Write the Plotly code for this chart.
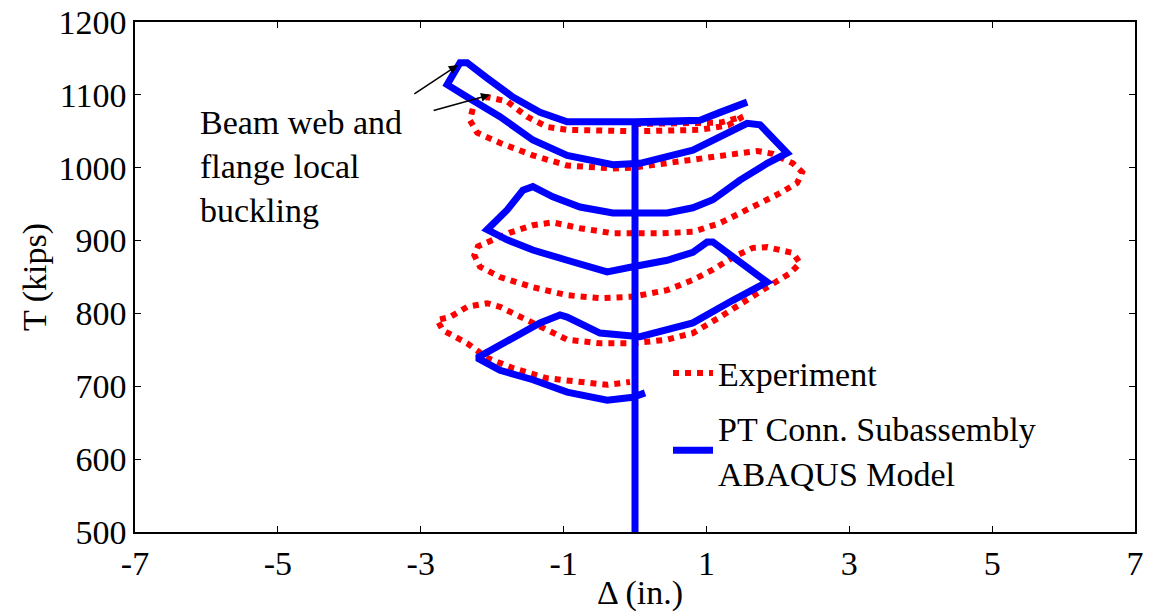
import plotly.graph_objects as go

# ABAQUS model (blue, solid)
model_delta = [0.0, 0.0, 0.5, 0.91, 1.19, 1.57, 1.19, 0.91, 0.0, -0.95, -1.33, -1.71, -2.07,
               -2.35, -2.45, -2.63, -2.35, -1.89, -1.43, -0.95, -0.31, 0.07, 0.81, 1.09,
               1.57, 1.75, 1.93, 2.13, 1.85, 1.47, 1.09, 0.81, 0.45, -0.31, -0.77, -1.15,
               -1.43, -1.57, -1.79, -2.07, -1.79, -1.43, -0.95, -0.39, -0.03, 0.45, 0.81,
               1.01, 1.09, 1.37, 1.85, 1.37, 0.81, 0.07, -0.49, -0.95, -1.05, -1.33, -1.75,
               -2.21, -1.89, -1.43, -0.95, -0.39, -0.03, 0.14]
model_T = [500, 1062, 1063, 1065, 1076, 1090, 1076, 1065, 1063, 1063, 1076, 1097, 1123,
           1144, 1144, 1114, 1097, 1070, 1038, 1017, 1004, 1006, 1024, 1038,
           1061, 1059, 1042, 1020, 1006, 983, 956, 945, 938, 938, 946, 960,
           974, 969, 942, 915, 901, 887, 873, 857, 864, 873, 884,
           898, 898, 877, 843, 818, 787, 768, 773, 795, 798, 787, 764,
           739, 722, 709, 692, 681, 685, 691]

# Experiment (red, dotted)
exp_delta = [0.0, 0.6, 1.2, 1.51, 1.3, 0.9, 0.0, -0.95, -1.23, -1.51, -1.79, -2.07, -2.25,
             -2.31, -2.21, -1.89, -1.43, -0.95, -0.31, -0.03, 0.45, 0.91, 1.37, 1.71,
             1.93, 2.21, 2.34, 2.27, 2.03, 1.65, 1.19, 0.81, 0.35, -0.31, -0.77, -1.15,
             -1.43, -1.75, -1.93, -2.2, -2.25, -2.17, -1.89, -1.43, -0.95, -0.49, -0.03,
             0.45, 0.81, 1.09, 1.37, 1.65, 1.85, 2.21, 2.31, 2.17, 1.85, 1.57, 1.19,
             0.81, 0.45, -0.03, -0.49, -0.95, -1.23, -1.57, -1.89, -2.07, -2.35, -2.59,
             -2.77, -2.69, -2.35, -2.07, -1.71, -1.23, -0.77, -0.39, -0.07]
exp_T = [1060, 1060, 1062, 1070, 1058, 1052, 1050, 1052, 1056, 1070, 1091, 1097, 1090,
         1065, 1048, 1034, 1017, 1003, 999, 1000, 1006, 1012, 1019, 1023,
         1019, 1006, 994, 979, 965, 946, 924, 912, 910, 910, 917, 925,
         921, 911, 904, 892, 880, 864, 850, 836, 825, 821, 823,
         832, 846, 860, 877, 890, 891, 883, 869, 855, 836, 818, 795,
         773, 764, 759, 759, 764, 777, 795, 809, 814, 809, 795,
         791, 777, 759, 739, 725, 711, 705, 702, 706]

x_ticks = [-7, -5, -3, -1, 1, 3, 5, 7]
x_labels = ['-7', '-5', '-3', '-1', '1', '3', '5', '7']
y_ticks = [500, 600, 700, 800, 900, 1000, 1100, 1200]

font = 'Liberation Serif, Times New Roman, serif'
fsize = 34

fig = go.Figure()
fig.add_trace(go.Scatter(
    x=exp_delta, y=exp_T, mode='lines', name='Experiment', legendgroup='exp',
    line=dict(color='#ff0000', width=6, dash='dot')
))
fig.add_trace(go.Scatter(
    x=model_delta, y=model_T, mode='lines', name='PT Conn. Subassembly<br>ABAQUS Model',
    legendgroup='fem', line=dict(color='#0000ff', width=7)
))

fig.add_annotation(
    x=-6.12, y=1002, xref='x', yref='y', text='Beam web and<br>flange local<br>buckling',
    showarrow=False, xanchor='left', yanchor='middle', align='left',
    font=dict(family=font, size=fsize, color='black')
)
fig.add_annotation(
    x=-2.48, y=1141, ax=-3.11, ay=1100, xref='x', yref='y', axref='x', ayref='y',
    text='', showarrow=True, arrowhead=2, arrowsize=1.2, arrowwidth=1.5, arrowcolor='black'
)
fig.add_annotation(
    x=-2.03, y=1100, ax=-2.84, ay=1078, xref='x', yref='y', axref='x', ayref='y',
    text='', showarrow=True, arrowhead=2, arrowsize=1.2, arrowwidth=1.5, arrowcolor='black'
)
# axis titles
fig.add_annotation(
    x=0.505, y=-0.12, xref='paper', yref='paper', text='Δ (in.)', showarrow=False,
    xanchor='center', yanchor='middle', font=dict(family=font, size=fsize, color='black')
)
fig.add_annotation(
    x=-0.1, y=0.5, xref='paper', yref='paper', text='T (kips)', showarrow=False,
    textangle=-90, xanchor='center', yanchor='middle',
    font=dict(family=font, size=fsize, color='black')
)

# the page body adds an 8px offset, so the figure is drawn 8px smaller
fig.update_layout(
    width=1150, height=605,
    margin=dict(l=127, r=23, t=14, b=81),
    paper_bgcolor='white', plot_bgcolor='white',
    font=dict(family=font, size=fsize, color='black'),
    showlegend=True,
    legend=dict(
        x=0.533, y=0.368, xanchor='left', yanchor='top',
        bgcolor='rgba(0,0,0,0)', borderwidth=0,
        font=dict(family=font, size=fsize, color='black'),
        tracegroupgap=8, itemwidth=40
    ),
    xaxis=dict(
        range=[-7, 7], tickvals=x_ticks, ticktext=x_labels, ticks='inside', ticklen=6,
        tickcolor='black', showline=True, linecolor='black', linewidth=1.5, mirror='ticks',
        showgrid=False, zeroline=False, automargin=False, ticklabeloverflow='allow',
        tickfont=dict(family=font, size=fsize)
    ),
    yaxis=dict(
        range=[500, 1200], tickvals=y_ticks, ticks='inside', ticklen=6, tickcolor='black',
        showline=True, linecolor='black', linewidth=1.5, mirror='ticks',
        showgrid=False, zeroline=False, automargin=False, ticklabeloverflow='allow',
        tickfont=dict(family=font, size=fsize), ticklabelstandoff=0
    ),
)

fig.write_html('out.html')
